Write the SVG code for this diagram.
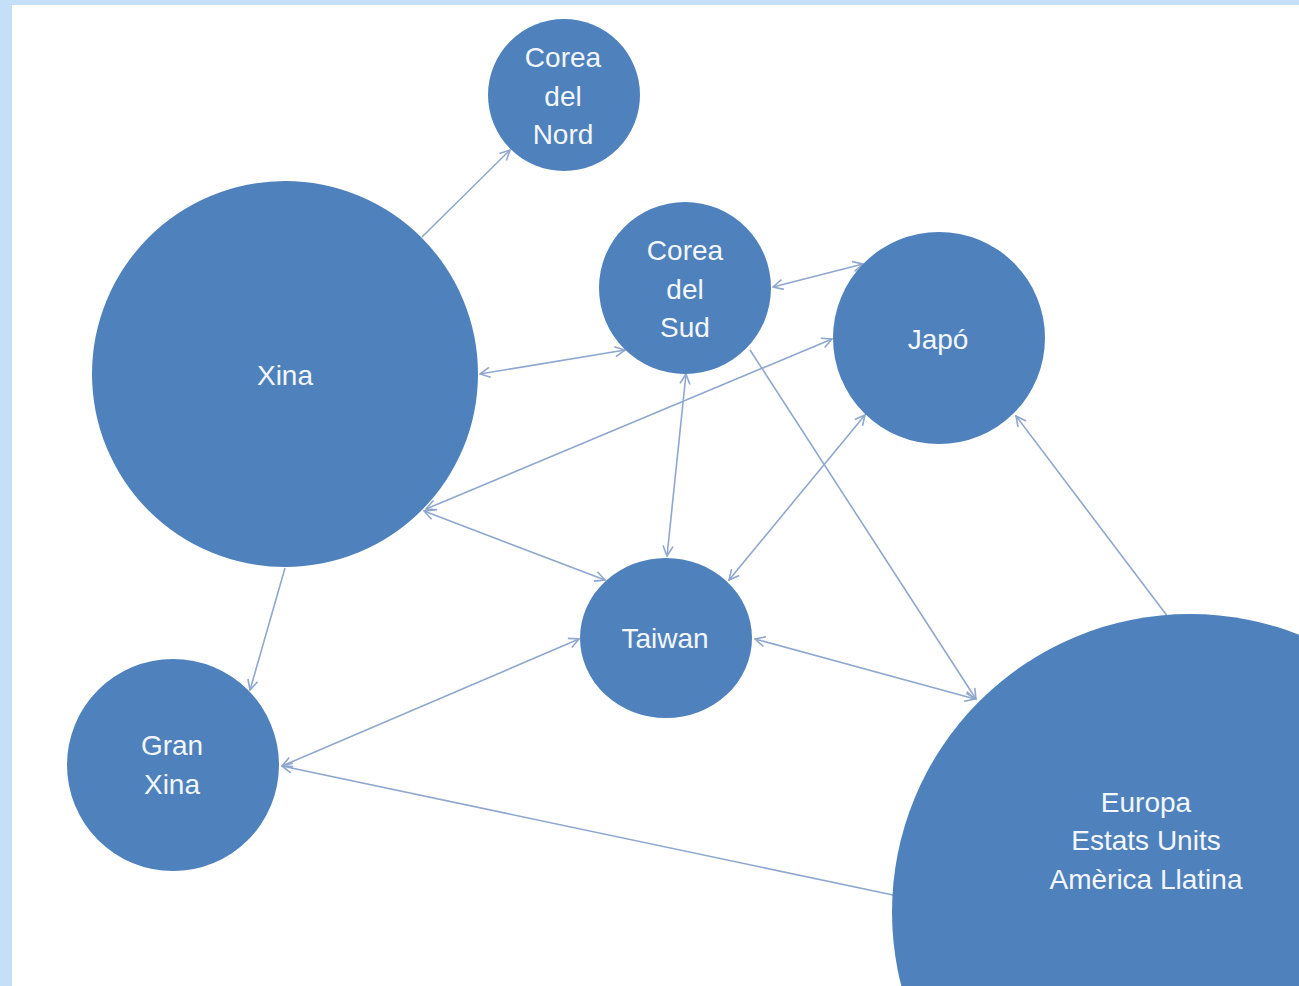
<svg xmlns="http://www.w3.org/2000/svg" width="1299" height="986" viewBox="0 0 1299 986">
<style>
.node{fill:#4F81BD;}
.lbl{font-family:"Liberation Sans",Arial,sans-serif;font-size:28px;fill:#F3F7FC;text-anchor:middle;}
.con{stroke:#8FA7CE;stroke-width:1.6;fill:none;}
</style>
<defs>
<marker id="ah" viewBox="0 0 12 12" refX="11" refY="6" markerWidth="12" markerHeight="12" markerUnits="userSpaceOnUse" orient="auto-start-reverse">
<path d="M1,1 L11,6 L1,11" fill="none" stroke="#8FA7CE" stroke-width="1.6"/>
</marker>
</defs>
<rect x="0" y="0" width="1299" height="986" fill="#C6DFF8"/>
<rect x="12" y="5" width="1287" height="981" fill="#FFFFFF"/>
<g id="connectors">
<line class="con" x1="422" y1="237" x2="510" y2="150" marker-end="url(#ah)"/>
<line class="con" x1="480" y1="374" x2="625" y2="350" marker-start="url(#ah)" marker-end="url(#ah)"/>
<line class="con" x1="773" y1="287" x2="863" y2="264" marker-start="url(#ah)" marker-end="url(#ah)"/>
<line class="con" x1="426" y1="509" x2="832" y2="339" marker-start="url(#ah)" marker-end="url(#ah)"/>
<line class="con" x1="686" y1="374" x2="667" y2="556" marker-start="url(#ah)" marker-end="url(#ah)"/>
<line class="con" x1="750" y1="350" x2="976" y2="699" marker-end="url(#ah)"/>
<line class="con" x1="865" y1="415" x2="729" y2="580" marker-start="url(#ah)" marker-end="url(#ah)"/>
<line class="con" x1="1168" y1="617" x2="1016" y2="416" marker-end="url(#ah)"/>
<line class="con" x1="424" y1="511" x2="605" y2="580" marker-start="url(#ah)" marker-end="url(#ah)"/>
<line class="con" x1="755" y1="639" x2="975" y2="699" marker-start="url(#ah)" marker-end="url(#ah)"/>
<line class="con" x1="285" y1="568" x2="250" y2="690" marker-end="url(#ah)"/>
<line class="con" x1="282" y1="766" x2="579" y2="639" marker-start="url(#ah)" marker-end="url(#ah)"/>
<line class="con" x1="893" y1="895" x2="282" y2="766" marker-end="url(#ah)"/>
</g>
<g id="corea-nord">
<circle class="node" cx="564" cy="95" r="76"/>
<text class="lbl" x="563" y="67">Corea</text>
<text class="lbl" x="563" y="106">del</text>
<text class="lbl" x="563" y="144">Nord</text>
</g>
<g id="xina">
<circle class="node" cx="285" cy="374" r="193"/>
<text class="lbl" x="285" y="385">Xina</text>
</g>
<g id="corea-sud">
<circle class="node" cx="685" cy="288" r="86"/>
<text class="lbl" x="685" y="260">Corea</text>
<text class="lbl" x="685" y="299">del</text>
<text class="lbl" x="685" y="337">Sud</text>
</g>
<g id="japo">
<circle class="node" cx="939" cy="338" r="106"/>
<text class="lbl" x="938" y="349">Japó</text>
</g>
<g id="taiwan">
<ellipse class="node" cx="666" cy="638" rx="86" ry="80"/>
<text class="lbl" x="665" y="648">Taiwan</text>
</g>
<g id="gran-xina">
<circle class="node" cx="173" cy="765" r="106"/>
<text class="lbl" x="172" y="755">Gran</text>
<text class="lbl" x="172" y="794">Xina</text>
</g>
<g id="europa">
<circle class="node" cx="1190" cy="912" r="298"/>
<text class="lbl" x="1146" y="812">Europa</text>
<text class="lbl" x="1146" y="850">Estats Units</text>
<text class="lbl" x="1146" y="889">Amèrica Llatina</text>
</g>
</svg>
